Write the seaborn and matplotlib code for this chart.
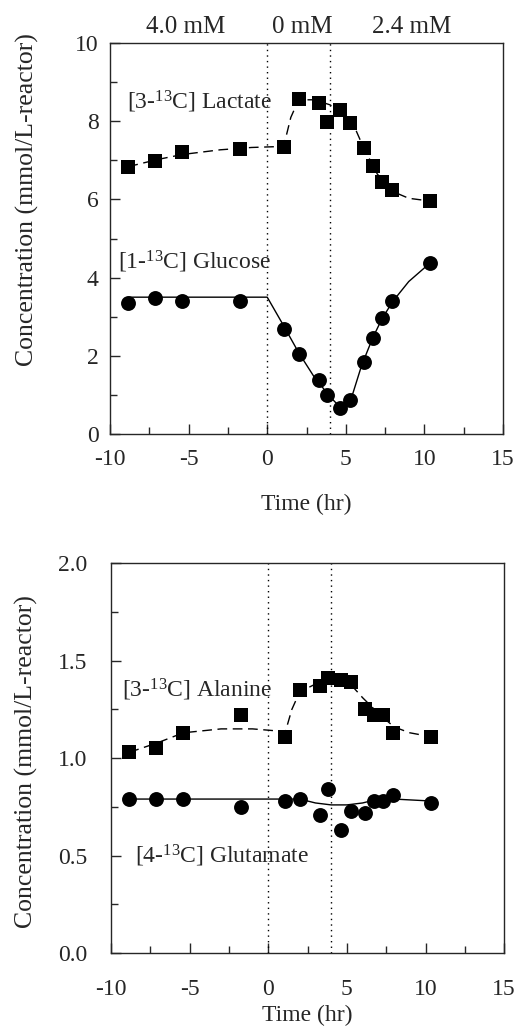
import matplotlib
matplotlib.use("Agg")
import matplotlib.pyplot as plt
import matplotlib.transforms as mtransforms
from matplotlib.ticker import MultipleLocator
import seaborn as sns
import pandas as pd

# ----------------------------
# Data
# ----------------------------
t_meas = [-8.83, -7.13, -5.43, -1.72, 1.07, 2.0, 3.27, 3.80, 4.61, 5.29, 6.14, 6.71, 7.30, 7.94, 10.34]

lactate = [6.84, 6.98, 7.22, 7.28, 7.35, 8.57, 8.46, 7.99, 8.29, 7.95, 7.31, 6.86, 6.45, 6.24, 5.96]
glucose = [3.34, 3.47, 3.40, 3.41, 2.69, 2.04, 1.38, 1.00, 0.66, 0.87, 1.85, 2.45, 2.96, 3.40, 4.37]
alanine = [1.03, 1.05, 1.13, 1.22, 1.11, 1.35, 1.37, 1.41, 1.40, 1.39, 1.25, 1.22, 1.22, 1.13, 1.11]
glutamate = [0.79, 0.79, 0.79, 0.75, 0.78, 0.79, 0.71, 0.84, 0.63, 0.73, 0.72, 0.78, 0.78, 0.81, 0.77]

# model curves
lac_t = [-8.83, -7.0, -5.4, -3.0, -1.0, 0.5, 1.07, 1.5, 2.0, 3.0, 4.0, 5.0, 5.5, 6.1, 7.0, 8.0, 9.0, 10.34]
lac_c = [6.84, 7.02, 7.15, 7.27, 7.33, 7.35, 7.4, 8.1, 8.55, 8.55, 8.42, 8.15, 7.9, 7.35, 6.65, 6.2, 6.03, 5.96]
glc_t = [-8.83, -5.0, 0.0, 1.0, 2.0, 3.0, 4.0, 4.6, 5.3, 6.0, 6.7, 7.3, 8.0, 9.0, 10.34]
glc_c = [3.5, 3.5, 3.5, 2.8, 2.08, 1.45, 0.95, 0.7, 0.85, 1.75, 2.45, 2.95, 3.4, 3.9, 4.37]
ala_t = [-8.83, -7.0, -5.4, -3.0, -1.0, 0.5, 1.07, 1.5, 2.0, 3.0, 4.0, 5.0, 6.0, 7.0, 8.0, 9.0, 10.34]
ala_c = [1.03, 1.08, 1.13, 1.15, 1.15, 1.14, 1.13, 1.25, 1.34, 1.38, 1.41, 1.40, 1.31, 1.23, 1.16, 1.13, 1.11]
glu_t = [-8.83, -5.0, 0.0, 2.0, 3.0, 4.0, 5.0, 6.0, 7.0, 8.0, 10.34]
glu_c = [0.79, 0.79, 0.79, 0.79, 0.77, 0.76, 0.76, 0.77, 0.79, 0.79, 0.78]

feed_times = [0, 4]
feed_labels = ["4.0 mM", "0 mM", "2.4 mM"]
feed_label_x = [-5.2, 2.2, 9.2]

# ----------------------------
# General Settings
# ----------------------------
sns.set_style("ticks")
plt.rcParams["font.family"] = ["Liberation Serif", "DejaVu Serif"]
plt.rcParams["mathtext.fontset"] = "custom"
plt.rcParams["mathtext.rm"] = "Liberation Serif"
plt.rcParams["mathtext.it"] = "Liberation Serif:italic"
plt.rcParams["axes.unicode_minus"] = False
FS = 17
YFS = 18.5

fig = plt.figure(figsize=(5.2, 10.34), dpi=100)
ax1 = fig.add_axes([0.2115, 0.5803, 0.756, 0.378])
ax2 = fig.add_axes([0.2135, 0.0783, 0.756, 0.377])


def draw_panel(ax, meas_sq, meas_ci, sq_t, sq_c, ci_t, ci_c, xpad, ypad, xlabpad):
    sq_df = pd.DataFrame({"t": t_meas, "c": meas_sq})
    ci_df = pd.DataFrame({"t": t_meas, "c": meas_ci})
    sns.lineplot(x=sq_t, y=sq_c, ax=ax, color="black", lw=1.0, sort=False,
                 estimator=None, linestyle=(0, (7, 4)))
    sns.lineplot(x=ci_t, y=ci_c, ax=ax, color="black", lw=1.0, sort=False,
                 estimator=None)
    sns.scatterplot(data=sq_df, x="t", y="c", ax=ax, marker="s", s=100,
                    color="black", edgecolor="black", linewidth=0, zorder=3)
    sns.scatterplot(data=ci_df, x="t", y="c", ax=ax, marker="o", s=115,
                    color="black", edgecolor="black", linewidth=0, zorder=3)
    for ft in feed_times:
        ax.axvline(ft, color="black", ls=(0, (1, 3)), lw=1.0, zorder=1)
    ax.set_xlim(-10, 15)
    ax.xaxis.set_major_locator(MultipleLocator(5))
    ax.xaxis.set_minor_locator(MultipleLocator(2.5))
    ax.tick_params(which="both", direction="in", top=False, right=False,
                   labelsize=FS)
    ax.tick_params(axis="x", which="both", pad=xpad)
    ax.tick_params(axis="y", which="both", pad=ypad)
    ax.tick_params(which="major", length=7, width=1)
    ax.tick_params(which="minor", length=5, width=1)
    ax.set_xlabel("Time (hr)", fontsize=FS, labelpad=xlabpad)
    ax.set_ylabel("Concentration (mmol/L-reactor)", fontsize=YFS)
    for sp in ax.spines.values():
        sp.set_linewidth(1.0)
        sp.set_visible(True)


# =====================================================
# Top panel: lactate / glucose
# =====================================================
draw_panel(ax1, lactate, glucose, lac_t, lac_c, glc_t, glc_c, 11, 8, 17)
ax1.set_ylim(0, 10)
ax1.yaxis.set_major_locator(MultipleLocator(2))
ax1.yaxis.set_minor_locator(MultipleLocator(1))
ax1.text(-8.9, 8.5, r"[3-$^{13}$C] Lactate", fontsize=FS, va="center", ha="left")
ax1.text(-9.5, 4.4, r"[1-$^{13}$C] Glucose", fontsize=FS, va="center", ha="left")
trans = mtransforms.blended_transform_factory(ax1.transData, ax1.transAxes)
for lx, lab in zip(feed_label_x, feed_labels):
    ax1.text(lx, 1.04, lab, transform=trans, fontsize=FS + 1, ha="center", va="center")

# =====================================================
# Bottom panel: alanine / glutamate
# =====================================================
draw_panel(ax2, alanine, glutamate, ala_t, ala_c, glu_t, glu_c, 19, 17, 3)
ax2.set_ylim(0, 2)
ax2.yaxis.set_major_locator(MultipleLocator(0.5))
ax2.yaxis.set_minor_locator(MultipleLocator(0.25))
ax2.yaxis.set_major_formatter(plt.FormatStrFormatter("%.1f"))
ax2.text(-9.3, 1.35, r"[3-$^{13}$C] Alanine", fontsize=FS, va="center", ha="left")
ax2.text(-8.5, 0.5, r"[4-$^{13}$C] Glutamate", fontsize=FS, va="center", ha="left")

ax1.yaxis.set_label_coords(-0.181, 0.60)
ax2.yaxis.set_label_coords(-0.185, 0.49)

fig.savefig("out.png", dpi=100)
